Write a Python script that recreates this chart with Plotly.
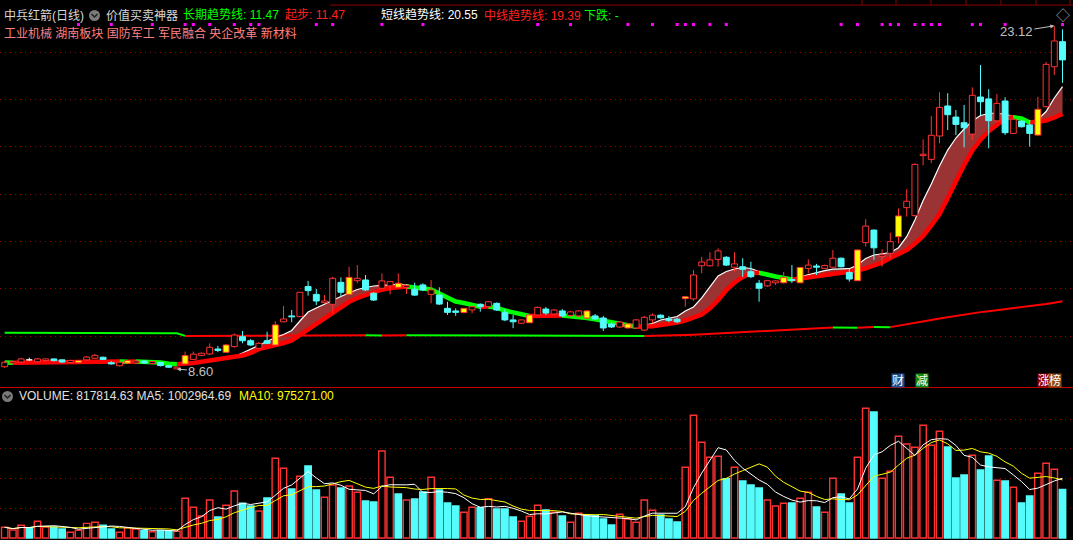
import plotly.graph_objects as go
import pandas as pd

W, H = 1073, 540

# ---------------- data ----------------
opens = [8.70, 8.86, 8.90, 8.99, 8.91, 8.96, 9.03, 8.99, 8.88, 8.87,
         8.99, 9.06, 9.10, 8.87, 8.74, 8.85, 8.86, 8.94, 8.84, 8.88,
         8.74, 8.61, 8.82, 9.01, 9.18, 9.24, 9.45, 9.31, 9.55, 9.97,
         9.80, 9.48, 9.80, 9.62, 10.60, 10.85, 10.82, 12.09, 11.76, 11.41,
         11.34, 12.27, 11.76, 12.34, 12.37, 11.81, 12.02, 12.12, 12.23, 12.06,
         11.98, 12.16, 11.76, 11.73, 11.17, 11.06, 10.99, 11.10, 11.34, 11.24,
         11.38, 11.00, 10.68, 10.54, 10.56, 10.89, 11.14, 10.93, 11.06, 10.87,
         10.85, 11.06, 10.85, 10.76, 10.51, 10.38, 10.34, 10.34, 10.25, 10.68,
         10.88, 10.72, 10.71, 11.58, 11.57, 12.97, 12.97, 13.24, 13.33, 12.91,
         12.93, 12.72, 12.23, 12.12, 12.25, 12.25, 12.39, 12.25, 12.86, 12.96,
         12.86, 12.91, 13.29, 12.69, 12.34, 13.95, 14.48, 13.36, 13.50, 14.20,
         15.43, 15.09, 17.63, 17.47, 18.46, 19.73, 19.26, 19.02, 18.54, 20.11,
         20.03, 19.10, 19.94, 18.57, 19.09, 18.93, 18.50, 19.70, 21.39, 22.45]
highs = [8.94, 8.96, 9.07, 9.08, 9.07, 9.05, 9.05, 9.01, 8.99, 8.99,
         9.15, 9.24, 9.13, 8.94, 8.92, 8.99, 8.99, 8.96, 8.94, 8.90,
         8.77, 8.71, 9.34, 9.34, 9.30, 9.69, 9.58, 9.66, 10.11, 10.21,
         9.87, 9.75, 10.18, 10.63, 11.27, 11.10, 11.86, 12.33, 11.99, 11.73,
         12.51, 12.48, 12.93, 13.00, 12.58, 11.86, 12.65, 12.33, 12.65, 12.16,
         12.26, 12.23, 12.37, 12.06, 11.45, 11.17, 11.18, 11.27, 11.38, 11.48,
         11.42, 11.14, 10.89, 10.70, 10.91, 11.25, 11.23, 11.14, 11.14, 11.06,
         11.10, 11.10, 10.93, 10.85, 10.59, 10.63, 10.55, 10.72, 10.85, 10.96,
         10.91, 10.85, 10.77, 11.68, 12.79, 13.35, 13.54, 13.71, 13.38, 13.54,
         13.29, 13.14, 12.37, 12.37, 12.35, 12.71, 13.00, 12.92, 13.24, 13.05,
         13.02, 13.64, 13.32, 12.83, 13.66, 14.94, 14.51, 13.67, 14.37, 15.40,
         16.21, 17.30, 18.32, 19.31, 20.31, 20.27, 19.56, 19.77, 20.52, 21.46,
         20.44, 20.24, 20.10, 19.20, 19.14, 19.14, 20.12, 21.59, 23.12, 22.97]
lows = [8.65, 8.82, 8.86, 8.96, 8.88, 8.92, 8.92, 8.86, 8.86, 8.84,
        8.94, 9.03, 8.99, 8.79, 8.71, 8.82, 8.82, 8.82, 8.80, 8.71,
        8.65, 8.60, 8.77, 8.99, 9.15, 9.20, 9.32, 9.28, 9.51, 9.69,
        9.58, 9.45, 9.66, 9.60, 10.59, 10.58, 10.80, 11.71, 11.31, 11.38,
        10.96, 11.66, 11.74, 12.23, 11.90, 11.48, 11.99, 11.76, 12.03, 11.78,
        11.69, 11.90, 11.38, 11.31, 10.89, 10.85, 10.97, 10.96, 11.03, 11.21,
        11.06, 10.63, 10.33, 10.51, 10.55, 10.87, 10.89, 10.89, 10.80, 10.82,
        10.80, 10.72, 10.68, 10.21, 10.34, 10.34, 10.32, 10.30, 10.21, 10.54,
        10.74, 10.58, 10.54, 11.24, 11.49, 12.65, 12.94, 12.93, 12.96, 12.72,
        12.50, 12.45, 11.45, 12.07, 12.16, 12.22, 12.24, 12.23, 12.65, 12.58,
        12.84, 12.88, 12.90, 12.30, 12.33, 13.78, 13.22, 12.93, 13.27, 13.92,
        15.05, 15.06, 17.22, 17.31, 18.15, 18.71, 18.50, 17.98, 18.29, 19.35,
        17.94, 19.05, 18.50, 18.54, 18.82, 18.01, 18.46, 19.66, 21.04, 20.71]
closes = [8.89, 8.92, 9.03, 8.99, 9.03, 9.03, 8.96, 8.90, 8.96, 8.96,
          9.11, 9.18, 9.01, 8.82, 8.89, 8.96, 8.94, 8.86, 8.92, 8.75,
          8.68, 8.68, 9.17, 9.23, 9.27, 9.52, 9.39, 9.62, 10.04, 9.80,
          9.62, 9.69, 9.69, 10.47, 10.72, 10.81, 11.85, 11.92, 11.48, 11.48,
          12.44, 11.85, 12.48, 12.44, 11.95, 11.52, 12.33, 12.30, 12.06, 12.13,
          11.73, 11.95, 11.95, 11.35, 11.00, 11.00, 11.17, 11.24, 11.24, 11.45,
          11.10, 10.68, 10.60, 10.68, 10.89, 11.21, 10.97, 11.10, 10.85, 11.02,
          11.06, 10.76, 10.72, 10.34, 10.38, 10.59, 10.51, 10.68, 10.79, 10.88,
          10.77, 10.66, 10.60, 11.66, 12.58, 13.13, 13.22, 13.60, 13.00, 13.05,
          12.82, 12.51, 12.02, 12.34, 12.33, 12.47, 12.35, 12.90, 13.00, 12.91,
          12.98, 13.29, 12.93, 12.41, 13.64, 14.65, 13.73, 13.43, 13.99, 15.08,
          15.70, 17.26, 17.69, 18.49, 19.67, 19.36, 18.95, 18.81, 20.18, 19.91,
          19.11, 19.84, 18.60, 19.17, 18.85, 18.57, 19.59, 21.49, 22.48, 21.68]
volumes = [180000, 135000, 214000, 173000, 281000, 185000, 180000, 152000, 96000, 130000,
           247000, 264000, 214000, 152000, 96000, 173000, 152000, 123000, 106000, 123000,
           123000, 113000, 668000, 517000, 370000, 640000, 354000, 551000, 791000, 584000,
           539000, 455000, 673000, 1342000, 1173000, 825000, 1039000, 1212000, 808000, 685000,
           892000, 842000, 875000, 769000, 623000, 606000, 1465000, 1022000, 741000, 640000,
           657000, 774000, 1022000, 808000, 589000, 539000, 433000, 517000, 510000, 662000,
           488000, 488000, 354000, 281000, 365000, 551000, 471000, 433000, 370000, 264000,
           416000, 387000, 375000, 320000, 219000, 399000, 320000, 264000, 640000, 466000,
           387000, 320000, 269000, 1190000, 2066000, 1611000, 1359000, 1375000, 998000, 1190000,
           960000, 892000, 842000, 640000, 539000, 584000, 589000, 668000, 769000, 522000,
           433000, 1005000, 741000, 589000, 1359000, 2184000, 2121000, 1005000, 1123000, 1712000,
           1582000, 1527000, 1897000, 1561000, 1796000, 1532000, 1010000, 1061000, 1392000, 1145000,
           1380000, 971000, 960000, 854000, 589000, 707000, 1089000, 1258000, 1157000, 817814.63]
# header readings of the volume moving averages on the last day
ma5_last = 1002964.69
ma10_last = 975271.00
# 中线趋势线
mid_line = [8.880, 8.870, 8.872, 8.874, 8.876, 8.878, 8.880, 8.882, 8.884, 8.886,
            8.890, 8.895, 8.900, 8.905, 8.920, 8.915, 8.925, 8.920, 8.910, 8.880,
            8.830, 8.810, 8.820, 8.858, 8.913, 8.964, 9.006, 9.048, 9.112, 9.175,
            9.281, 9.450, 9.535, 9.606, 9.704, 9.809, 10.042, 10.288, 10.508, 10.749,
            11.007, 11.231, 11.447, 11.608, 11.739, 11.853, 11.959, 12.031, 12.082, 12.094,
            12.052, 12.031, 11.967, 11.798, 11.629, 11.460, 11.396, 11.333, 11.240, 11.245,
            11.190, 11.079, 11.003, 10.910, 10.846, 10.850, 10.855, 10.860, 10.865, 10.840,
            10.800, 10.760, 10.710, 10.650, 10.580, 10.510, 10.430, 10.390, 10.392, 10.410,
            10.465, 10.508, 10.571, 10.656, 10.783, 10.910, 11.172, 11.523, 11.946, 12.263,
            12.496, 12.656, 12.678, 12.581, 12.517, 12.454, 12.390, 12.411, 12.475, 12.526,
            12.572, 12.610, 12.652, 12.699, 12.771, 12.864, 12.970, 13.109, 13.300, 13.469,
            13.638, 13.913, 14.230, 14.674, 15.161, 15.837, 16.578, 17.233, 17.847, 18.304,
            18.659, 18.934, 19.213, 19.252, 19.201, 19.032, 19.052, 19.116, 19.243, 19.390]
# 短线趋势线
short_line = [8.880, 8.870, 8.872, 8.874, 8.876, 8.878, 8.880, 8.882, 8.884, 8.886,
              8.890, 8.895, 8.900, 8.905, 8.920, 8.915, 8.925, 8.920, 8.910, 8.880,
              8.830, 8.810, 8.858, 8.922, 8.964, 9.006, 9.048, 9.091, 9.133, 9.281,
              9.450, 9.619, 9.788, 9.937, 10.063, 10.233, 10.634, 11.015, 11.184, 11.354,
              11.523, 11.671, 11.819, 11.967, 12.052, 12.115, 12.145, 12.170, 12.187, 12.179,
              12.052, 12.031, 11.967, 11.798, 11.629, 11.460, 11.396, 11.333, 11.240, 11.245,
              11.190, 11.079, 11.003, 10.910, 10.846, 10.850, 10.855, 10.860, 10.865, 10.840,
              10.800, 10.760, 10.710, 10.650, 10.580, 10.510, 10.430, 10.390, 10.444, 10.529,
              10.677, 10.740, 10.825, 11.057, 11.227, 11.608, 12.086, 12.539, 12.729, 12.834,
              12.898, 12.856, 12.729, 12.581, 12.517, 12.454, 12.430, 12.505, 12.598, 12.683,
              12.767, 12.826, 12.834, 12.847, 13.004, 13.279, 13.427, 13.477, 13.532, 13.735,
              14.201, 14.907, 15.732, 16.430, 17.192, 17.864, 18.375, 18.756, 19.095, 19.327,
              19.412, 19.433, 19.361, 19.306, 19.201, 19.032, 19.158, 19.496, 20.067, 20.550]
# 长期趋势线
long_line = [10.135, 10.134, 10.133, 10.132, 10.131, 10.130, 10.129, 10.128, 10.127, 10.126,
             10.125, 10.124, 10.123, 10.122, 10.121, 10.120, 10.119, 10.118, 10.117, 10.116,
             10.115, 10.114, 10.005, 10.006, 10.007, 10.008, 10.009, 10.010, 10.011, 10.012,
             10.013, 10.014, 10.015, 10.016, 10.017, 10.018, 10.019, 10.020, 10.021, 10.022,
             10.023, 10.024, 10.025, 10.026, 10.027, 10.025, 10.023, 10.024, 10.026, 10.030,
             10.029, 10.028, 10.027, 10.026, 10.025, 10.024, 10.023, 10.022, 10.021, 10.020,
             10.019, 10.018, 10.017, 10.016, 10.015, 10.014, 10.013, 10.012, 10.011, 10.010,
             10.009, 10.008, 10.007, 10.006, 10.005, 10.004, 10.003, 10.002, 10.001, 10.005,
             10.012, 10.020, 10.030, 10.042, 10.056, 10.072, 10.090, 10.108, 10.126, 10.144,
             10.162, 10.180, 10.198, 10.216, 10.234, 10.252, 10.270, 10.288, 10.306, 10.324,
             10.342, 10.360, 10.355, 10.350, 10.345, 10.365, 10.385, 10.380, 10.375, 10.430,
             10.500, 10.560, 10.620, 10.680, 10.740, 10.800, 10.860, 10.910, 10.960, 11.010,
             11.050, 11.090, 11.130, 11.170, 11.210, 11.250, 11.300, 11.350, 11.410, 11.470]
signal_idx = [9, 15, 22, 27, 33, 42, 48, 56, 64, 71, 76, 83, 95, 97, 104, 109, 126]
dot_idx = [9, 13, 18, 22, 23, 25, 28, 30, 31, 38, 40, 46, 51, 65, 69, 76, 79, 82, 83, 84,
           86, 88, 102, 104, 107, 108, 109, 111, 112, 113, 114, 118, 119, 122, 129]
tag_text = "工业机械 湖南板块 国防军工 军民融合 央企改革 新材料"

# ---------------- geometry ----------------
n = len(closes)
idx = list(range(n))
STEP = 8.2
X0 = 4.7
X_RANGE = [-X0 / STEP, (W - X0) / STEP]
PPX = 1 / 23.64                     # price per pixel
PRICE_TOP = 24.213
PRICE_BOT = PRICE_TOP - 387 * PPX
VPX = 16835                         # volume per pixel
VOL_RANGE = [-2 * VPX, 135 * VPX]

RED = "#FF3232"
CYAN = "#54FCFC"
FONT = "Liberation Sans, Noto Sans CJK SC"


def fx(x):
    return x / W


def fy(y):
    return 1 - y / H


fig = go.Figure()


def line_trace(xs, ys, color, width, yaxis="y"):
    fig.add_trace(go.Scatter(x=xs, y=ys, mode="lines", yaxis=yaxis,
                             line=dict(color=color, width=width),
                             hoverinfo="skip", connectgaps=False))


def slope_runs(vals):
    runs = []
    for i in range(len(vals) - 1):
        up = vals[i + 1] >= vals[i]
        if runs and runs[-1][0] == up:
            runs[-1][1].append(i + 1)
        else:
            runs.append([up, [i, i + 1]])
    return runs


def colored_line(vals, width):
    runs = slope_runs(vals)
    for up, color in ((True, "#FF0000"), (False, "#00FF00")):
        xs, ys = [], []
        for u, ids in runs:
            if u == up:
                xs += ids + [None]
                ys += [vals[k] for k in ids] + [None]
        line_trace(xs, ys, color, width)


# band between short and mid trend lines
band_x, band_y, wx, wy = [], [], [], []
i = 0
while i < n:
    if short_line[i] > mid_line[i] + 1e-9:
        j = i
        while j + 1 < n and short_line[j + 1] > mid_line[j + 1] + 1e-9:
            j += 1
        seg = list(range(max(i - 1, 0), min(j + 1, n - 1) + 1))
        band_x += seg + seg[::-1] + [None]
        band_y += [short_line[k] for k in seg] + [mid_line[k] for k in seg[::-1]] + [None]
        wx += seg + [None]
        wy += [short_line[k] for k in seg] + [None]
        i = j + 1
    else:
        i += 1

fig.add_trace(go.Scatter(x=band_x, y=band_y, mode="lines", fill="toself",
                         fillcolor="#9A3434", line=dict(width=0, color="#9A3434"),
                         hoverinfo="skip"))
colored_line(long_line, 2)
line_trace(wx, wy, "#FFFFFF", 1.2)
colored_line(mid_line, 4.5)

# candles (drawn as scatter shapes so they sit above the trend lines)
HW = 0.36
styles = {
    "up": dict(line=RED, fill="#000000", wick=RED),
    "down": dict(line=CYAN, fill=CYAN, wick=CYAN),
    "sig": dict(line=RED, fill="#FFFF00", wick=RED),
    "doji": dict(line="#FFFFFF", fill="rgba(0,0,0,0)", wick="#FFFFFF"),
}
body = {k: ([], []) for k in styles}
wick = {k: ([], []) for k in styles}
for i in idx:
    o, c = opens[i], closes[i]
    if i in signal_idx:
        g = "sig"
    elif c > o:
        g = "up"
    elif c < o:
        g = "down"
    else:
        g = "doji"
    top, bot = max(o, c), min(o, c)
    bx, by = body[g]
    bx += [i - HW, i + HW, i + HW, i - HW, i - HW, None]
    by += [bot, bot, top, top, bot, None]
    kx, ky = wick[g]
    kx += [i, i, None, i, i, None]
    ky += [highs[i], top, None, bot, lows[i], None]

for g, st in styles.items():
    line_trace(wick[g][0], wick[g][1], st["wick"], 1)
for g, st in styles.items():
    fig.add_trace(go.Scatter(x=body[g][0], y=body[g][1], mode="lines",
                             fill="toself", fillcolor=st["fill"],
                             line=dict(color=st["line"], width=1),
                             hoverinfo="skip"))

# signal dots row
dot_row = PRICE_TOP - 24.5 * PPX
fig.add_trace(go.Scatter(x=dot_idx, y=[dot_row] * len(dot_idx), mode="markers",
                         marker=dict(symbol="square", size=3, color="#FF00FF",
                                     line=dict(width=0)),
                         hoverinfo="skip"))

# volume panel
vol_up = [volumes[i] if closes[i] > opens[i] else None for i in idx]
vol_dn = [volumes[i] if closes[i] <= opens[i] else None for i in idx]
fig.add_trace(go.Bar(x=idx, y=vol_up, yaxis="y2", width=0.78,
                     marker=dict(color="#000000", line=dict(color=RED, width=1.4)),
                     hoverinfo="skip"))
fig.add_trace(go.Bar(x=idx, y=vol_dn, yaxis="y2", width=0.78,
                     marker=dict(color=CYAN, line=dict(color=CYAN, width=1.4)),
                     hoverinfo="skip"))
vs = pd.Series(volumes, dtype=float)
ma5 = vs.rolling(5, min_periods=1).mean().tolist()
ma10 = vs.rolling(10, min_periods=1).mean().tolist()
line_trace(idx, ma10, "#FFFF00", 1, "y2")
line_trace(idx, ma5, "#FFFFFF", 1, "y2")

# ---------------- annotations ----------------
ann = []


def txt(x, y, s, color, size=12, xanchor="left", **kw):
    d = dict(x=fx(x), y=fy(y), xref="paper", yref="paper", text=s,
             showarrow=False, xanchor=xanchor, yanchor="middle",
             font=dict(color=color, size=size, family=FONT))
    d.update(kw)
    ann.append(d)


txt(2, 15, "中兵红箭(日线)", "#D8D8D8")
txt(104, 15, "价值买卖神器", "#D8D8D8")
txt(181, 15, f"长期趋势线: {long_line[-1]:.2f}", "#00FF00")
txt(283, 15, f"起步: {long_line[-1]:.2f}", "#FF2020")
txt(379, 15, f"短线趋势线: {short_line[-1]:.2f}", "#FFFFFF")
txt(482, 15, f"中线趋势线: {mid_line[-1]:.2f}", "#FF2020")
txt(582, 15, "下跌: -", "#00FF00")
txt(2, 33, tag_text, "#FF8080")
txt(1063, 15, "◇", "#A0A0A0", size=14, xanchor="center")

txt(17, 396, f"VOLUME: {volumes[-1]:.2f} MA5: {ma5_last:.2f}", "#E0E0E0")
txt(237, 396, f"MA10: {ma10_last:.2f}", "#FFFF00")

for cx, s, bg in ((897.5, "财", "#1E4E8E"), (922, "减", "#108A10"),
                  (1043.5, "涨", "#900000"), (1054.5, "榜", "#8A4A14")):
    txt(cx, 380.5, s, "#FFFFFF", xanchor="center", bgcolor=bg, borderpad=0,
        width=12, height=13)

hi_i = highs.index(max(highs))
lo_i = lows.index(min(lows))
ann.append(dict(x=hi_i, y=highs[hi_i], xref="x", yref="y", text=f"{highs[hi_i]:.2f}",
                showarrow=True, ax=-38, ay=6, arrowhead=2, arrowsize=0.8,
                arrowwidth=1, arrowcolor="#C0C0C0", standoff=0,
                font=dict(color="#C0C0C0", size=13, family=FONT)))
ann.append(dict(x=lo_i, y=lows[lo_i], xref="x", yref="y", text=f"{lows[lo_i]:.2f}",
                showarrow=True, ax=24, ay=2, arrowhead=2, arrowsize=0.8,
                arrowwidth=1, arrowcolor="#C0C0C0", standoff=0,
                font=dict(color="#C0C0C0", size=13, family=FONT)))

# ---------------- shapes ----------------
shapes = [
    dict(type="line", xref="paper", yref="paper", x0=0, x1=1,
         y0=fy(387.5), y1=fy(387.5), line=dict(color="#C80000", width=1)),
    dict(type="line", xref="paper", yref="paper", x0=fx(330), x1=1,
         y0=fy(5), y1=fy(5), line=dict(color="#8B0000", width=1)),
]
for tx in (862, 896, 931, 966, 1001, 1036, 1070):
    shapes.append(dict(type="line", xref="paper", yref="paper", x0=fx(tx), x1=fx(tx),
                       y0=fy(0), y1=fy(5), line=dict(color="#8B0000", width=1)))
for cx, cy in ((94.5, 15.5), (7.5, 396.5)):
    shapes.append(dict(type="circle", xref="paper", yref="paper",
                       x0=fx(cx - 5.5), x1=fx(cx + 5.5), y0=fy(cy + 5.5), y1=fy(cy - 5.5),
                       fillcolor="#7A7A7A", line=dict(width=0)))
    shapes.append(dict(type="path", xref="paper", yref="paper",
                       path=f"M {fx(cx - 3)},{fy(cy - 1.5)} L {fx(cx)},{fy(cy + 1.5)} L {fx(cx + 3)},{fy(cy - 1.5)}",
                       line=dict(color="#202020", width=1.5)))

grid = dict(showgrid=True, gridcolor="#990000", griddash="1px,4px", gridwidth=1,
            showticklabels=False, zeroline=False, showline=False, ticks="",
            fixedrange=True)

fig.update_layout(
    width=W, height=H, margin=dict(l=0, r=0, t=0, b=0, pad=0),
    paper_bgcolor="#000000", plot_bgcolor="#000000",
    showlegend=False, barmode="overlay", hovermode=False,
    xaxis=dict(range=X_RANGE, visible=False, fixedrange=True, anchor="y2"),
    yaxis=dict(domain=[fy(387), 1], range=[PRICE_BOT, PRICE_TOP],
               tickvals=[10, 12, 14, 16, 18, 20, 22], **grid),
    yaxis2=dict(domain=[0, fy(403)], range=VOL_RANGE,
                tickvals=[500000, 1000000, 1500000, 2000000], **grid),
    annotations=ann, shapes=shapes,
)

fig.write_html(
    "out.html",
    config={"displayModeBar": False, "staticPlot": True},
    post_script="document.body.style.margin='0';document.body.style.overflow='hidden';"
                "document.body.style.background='#000';",
)
